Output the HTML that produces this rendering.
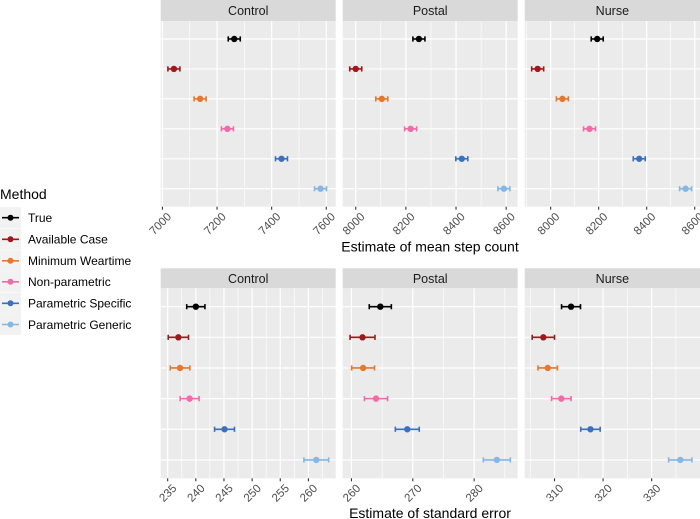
<!DOCTYPE html>
<html><head><meta charset="utf-8"><style>
html,body{margin:0;padding:0;background:#fff;}
svg{display:block;font-family:"Liberation Sans",Arial,sans-serif;}
</style></head><body>
<svg id="chart" width="700" height="519" viewBox="0 0 700 519"></svg>
<script>
const methods = ["True","Available Case","Minimum Weartime","Non-parametric","Parametric Specific","Parametric Generic"];
const colors = ["#000000","#A3161B","#E8772E","#F06BA8","#3A70BF","#86B6E4"];
const groups = ["Control","Postal","Nurse"];
// Mean step count estimates
const meanControl = [7263,7042,7138,7238,7436,7579];
const meanPostal = [8252,8000,8104,8219,8423,8591];
const meanNurse = [8194,7946,8049,8162,8369,8562];
const meanErr = [22,24,25];
// Standard error estimates
const seControl = [240.0,236.9,237.2,238.9,245.1,261.4];
const sePostal = [264.7,261.8,261.9,264.0,269.1,283.7];
const seNurse = [313.4,307.7,308.6,311.4,317.4,335.9];
const seErrControl = [1.62,1.8,1.74,1.68,1.77,2.2];
const seErrPostal = [1.8,2.03,1.86,1.89,1.95,2.2];
const seErrNurse = [1.95,2.3,2.0,2.0,2.0,2.4];
// axis domains & ticks
const meanDomains = [[6993.6,7634.6],[7948,8646],[7892,8622]];
const meanTicks = [[7000,7200,7400,7600],[8000,8200,8400,8600],[8000,8200,8400,8600]];
const meanMinor = [[7100,7300,7500],[8100,8300,8500],[7900,8100,8300,8500]];
const seDomains = [[233.76,264.85],[258.57,287.1],[303.86,339.96]];
const seTicks = [[235,240,245,250,255,260],[260,270,280],[310,320,330]];
const seMinor = [[237.5,242.5,247.5,252.5,257.5,262.5],[265,275,285],[305,315,325,335]];

const NS="http://www.w3.org/2000/svg";
const svg=document.getElementById('chart');
function mk(tag,attrs,parent){const e=document.createElementNS(NS,tag);for(const k in attrs)e.setAttribute(k,attrs[k]);(parent||svg).appendChild(e);return e;}

const panelX=[[160.7,335.7],[342.7,517.7],[524.7,700]];

function drawRow(rowName,strip0,strip1,panel0,panel1,domains,ticks,minors,data,errs,title,titleY){
  const unit=(panel1-panel0)/6.2;
  const yOf=i=>panel0+(0.6+i)*unit;
  for(let p=0;p<3;p++){
    const x0=panelX[p][0],x1=panelX[p][1];
    const d=domains[p];
    const xOf=v=>x0+(v-d[0])/(d[1]-d[0])*(x1-x0);
    const g=mk('g',{});
    
    
    const st=mk('rect',{x:x0,y:strip0,width:x1-x0,height:strip1-strip0,fill:'#d9d9d9'},g);
    
    
    const stt=mk('text',{x:(x0+x1)/2,y:(strip0+strip1)/2+4.5,'text-anchor':'middle','font-size':'12.5',fill:'#1a1a1a'},g);
    stt.textContent=groups[p];
    
    
    const bg=mk('rect',{x:x0,y:panel0,width:x1-x0,height:panel1-panel0,fill:'#ebebeb'},g);
    
    
    minors[p].forEach(v=>{const x=xOf(v);if(x<x0||x>x1)return;const l=mk('line',{x1:x,x2:x,y1:panel0,y2:panel1,stroke:'#fff','stroke-width':0.6},g);});
    ticks[p].forEach(v=>{const x=xOf(v);const l=mk('line',{x1:x,x2:x,y1:panel0,y2:panel1,stroke:'#fff','stroke-width':1.2},g);});
    for(let i=0;i<6;i++){const y=yOf(i);const l=mk('line',{x1:x0,x2:x1,y1:y,y2:y,stroke:'#fff','stroke-width':1.2},g);}
    ticks[p].forEach(v=>{const x=xOf(v);
      const tk=mk('line',{x1:x,x2:x,y1:panel1,y2:panel1+3,stroke:'#333','stroke-width':1.1},g);
      
      const tx=mk('text',{x:x+4,y:panel1+13,'text-anchor':'end','font-size':'11.5',fill:'#4d4d4d',transform:'rotate(-45 '+(x+4)+' '+(panel1+5)+')'},g);
      tx.textContent=String(v);
      
    });
    const vals=data[p];
    for(let i=0;i<6;i++){
      const y=yOf(i),c=colors[i];const e=Array.isArray(errs[p])?errs[p][i]:errs[p];
      const xa=xOf(vals[i]-e),xb=xOf(vals[i]+e);
      const eg=mk('g',{},g);
      
      
      mk('line',{x1:xa,x2:xb,y1:y,y2:y,stroke:c,'stroke-width':1.6},eg);
      mk('line',{x1:xa,x2:xa,y1:y-2.6,y2:y+2.6,stroke:c,'stroke-width':1.6},eg);
      mk('line',{x1:xb,x2:xb,y1:y-2.6,y2:y+2.6,stroke:c,'stroke-width':1.6},eg);
      mk('circle',{cx:xOf(vals[i]),cy:y,r:3.2,fill:c},eg);
    }
  }
  const t=mk('text',{x:430,y:titleY,'text-anchor':'middle','font-size':'14',fill:'#000'});
  t.textContent=title;
  
  
}
drawRow('mean',0,21,21,206.7,meanDomains,meanTicks,meanMinor,[meanControl,meanPostal,meanNurse],meanErr,'Estimate of mean step count',251.5);
drawRow('se',268.3,288.3,288.3,478.3,seDomains,seTicks,seMinor,[seControl,sePostal,seNurse],[seErrControl,seErrPostal,seErrNurse],'Estimate of standard error',518);

// legend
const lg=mk('g',{});


const lt=mk('text',{x:0,y:199,'font-size':'14',fill:'#000'},lg);
lt.textContent='Method';


const legY=[217.7,239.3,260.8,281.8,303.3,324.5];
methods.forEach((m,i)=>{
  const y=legY[i];
  const e=mk('g',{},lg);
  
  
  mk('rect',{x:0,y:y-10.5,width:21,height:21,fill:'#f2f2f2'},e);
  mk('line',{x1:2,x2:19,y1:y,y2:y,stroke:colors[i],'stroke-width':1.6},e);
  mk('circle',{cx:10.5,cy:y,r:3,fill:colors[i]},e);
  const tx=mk('text',{x:28,y:y+4.3,'font-size':'12',fill:'#000'},e);
  tx.textContent=m;
});
</script>
</body></html>
